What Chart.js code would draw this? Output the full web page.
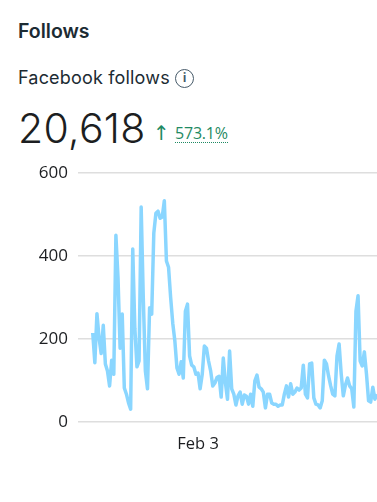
<!DOCTYPE html>
<html><head><meta charset="utf-8">
<script src="https://cdn.jsdelivr.net/npm/chart.js@4"></script>
<style>
html,body{margin:0;padding:0;background:#fff;width:377px;height:502px;overflow:hidden;position:relative}
.t{position:absolute;white-space:nowrap;font-family:Inter,"Open Sans",sans-serif;color:#1c2b33}
#info{position:absolute;left:175px;top:69px;width:19px;height:19px;box-sizing:border-box;border:1.5px solid #465a69;border-radius:50%;color:#465a69;font:bold 12px/16px "Open Sans",sans-serif;text-align:center}
canvas{position:absolute;left:0;top:0}
</style></head><body>
<div class="t" style="left:18px;top:19px;font-size:19.5px;font-weight:600;">Follows</div>
<div class="t" style="left:18px;top:67px;font-size:18px;letter-spacing:.18px">Facebook follows</div>
<div id="info">i</div>
<div class="t" style="left:18px;top:103px;font-size:41px;color:#1c1e21;font-weight:300;letter-spacing:.3px">20,618</div>
<div class="t" style="left:153px;top:121px;font-size:20px;color:#1f8a63;font-family:'DejaVu Sans'">↑</div>
<div class="t" style="left:175px;top:125px;font-size:16px;color:#1f8a63;font-family:'Open Sans';border-bottom:1.5px dotted #1f8a63;line-height:17px;letter-spacing:-.2px">573.1%</div>
<div style="position:absolute;left:0;top:150px;width:377px;height:310px"><canvas id="c" width="377" height="310"></canvas></div>
<script>
const categories=[];
const leadingGap=[null,null,null,null,null,null,null];
const follows=[215,143,261,203,165,233,140,123,87,149,115,450,348,178,260,82,67,46,31,417,226,133,147,518,300,123,80,275,260,455,503,508,491,494,533,388,373,300,238,195,130,115,145,106,267,284,159,137,133,115,118,80,115,183,178,147,123,87,94,107,110,60,154,95,55,171,80,67,41,63,72,43,65,62,43,67,38,99,113,84,80,72,34,67,67,46,43,43,38,41,41,67,87,60,92,67,72,82,77,82,137,67,58,140,142,58,43,41,34,51,149,140,111,87,67,63,159,188,116,63,89,106,87,80,36,267,304,147,135,169,116,51,48,84,55,67];
const tickLabels={ "Feb 3":57 };
const series=leadingGap.concat(follows);
for(let i=0;i<series.length;i++)categories.push('');
categories[tickLabels["Feb 3"]]='Feb 3';
new Chart(document.getElementById('c'),{
 type:'line',
 data:{labels:categories,datasets:[{data:series,borderColor:'#8ad6ff',borderWidth:3.5,pointRadius:0,tension:0,fill:false,spanGaps:false,borderJoinStyle:'round'}]},
 options:{responsive:false,animation:false,
  layout:{padding:{left:0,right:0,top:23,bottom:0}},
  plugins:{legend:{display:false},tooltip:{enabled:false}},
  scales:{
   x:{offset:false,afterFit(s){s.height=38},grid:{display:false},border:{display:false},
      ticks:{autoSkip:false,maxRotation:0,minRotation:0,font:{family:'Open Sans',size:16.5},color:'#1c1e21',padding:4,callback(v){return categories[v]||null}}},
   y:{min:0,max:600,afterFit(s){s.width=78},grid:{color:'#dedede',lineWidth:1.5,drawTicks:false},border:{display:false},
      ticks:{stepSize:200,padding:10,font:{family:'Open Sans',size:17},color:'#1c1e21'}}
  }}
});
</script>
</body></html>
